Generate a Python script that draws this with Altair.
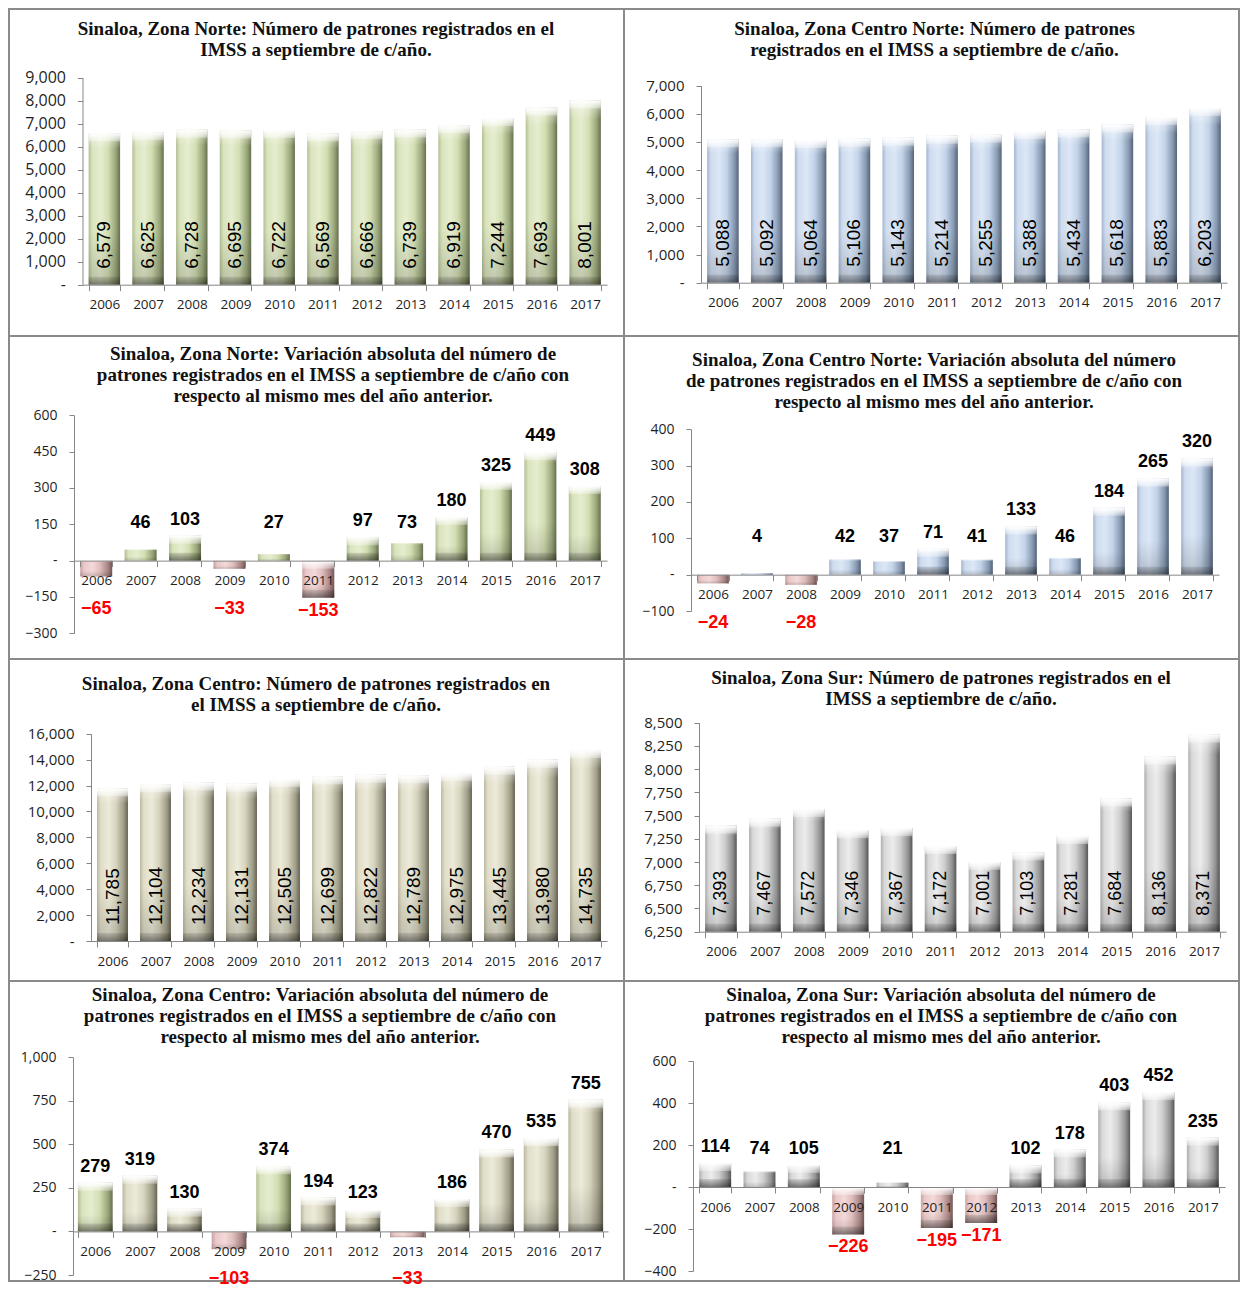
import altair as alt
import pandas as pd

# ---------------- data ----------------
years = [str(y) for y in range(2006, 2018)]

norte_num = [6579, 6625, 6728, 6695, 6722, 6569, 6666, 6739, 6919, 7244, 7693, 8001]
cnorte_num = [5088, 5092, 5064, 5106, 5143, 5214, 5255, 5388, 5434, 5618, 5883, 6203]
centro_num = [11785, 12104, 12234, 12131, 12505, 12699, 12822, 12789, 12975, 13445, 13980, 14735]
sur_num = [7393, 7467, 7572, 7346, 7367, 7172, 7001, 7103, 7281, 7684, 8136, 8371]

norte_var = [-65, 46, 103, -33, 27, -153, 97, 73, 180, 325, 449, 308]
cnorte_var = [-24, 4, -28, 42, 37, 71, 41, 133, 46, 184, 265, 320]
centro_var = [279, 319, 130, -103, 374, 194, 123, -33, 186, 470, 535, 755]
sur_var = [114, 74, 105, -226, 21, -195, -171, 102, 178, 403, 452, 235]

# years drawn in green in the Zona Centro variation chart
centro_var_green = ["2006", "2010"]

t_norte_num = ["Sinaloa, Zona Norte: Número de patrones registrados en el",
               "IMSS a septiembre de c/año."]
t_cnorte_num = ["Sinaloa, Zona Centro Norte: Número de patrones",
                "registrados en el IMSS a septiembre de c/año."]
t_norte_var = ["Sinaloa, Zona Norte: Variación absoluta del número de",
               "patrones registrados en el IMSS a septiembre de c/año con",
               "respecto al mismo mes del año anterior."]
t_cnorte_var = ["Sinaloa, Zona Centro Norte: Variación absoluta del número",
                "de patrones registrados en el IMSS a septiembre de c/año con",
                "respecto al mismo mes del año anterior."]
t_centro_num = ["Sinaloa, Zona Centro: Número de patrones registrados en",
                "el IMSS a septiembre de c/año."]
t_sur_num = ["Sinaloa, Zona Sur: Número de patrones registrados en el",
             "IMSS a septiembre de c/año."]
t_centro_var = ["Sinaloa, Zona Centro: Variación absoluta del número de",
                "patrones registrados en el IMSS a septiembre de c/año con",
                "respecto al mismo mes del año anterior."]
t_sur_var = ["Sinaloa, Zona Sur: Variación absoluta del número de",
             "patrones registrados en el IMSS a septiembre de c/año con",
             "respecto al mismo mes del año anterior."]

# ---------------- style ----------------
SANS = "Open Sans"
ARIAL = "Liberation Sans"
SERIF = "Liberation Serif"
AX = "#868686"
LAB = "#1f1f1f"
NB = "\u00a0"

PAL = {
    "green": ["#b2be93", "#d9e4bd", "#e5edcf", "#d3deb2", "#9aa77b", "#66704f"],
    "blue": ["#a4b6ce", "#cfdcef", "#dce7f6", "#c3d3e8", "#879ab2", "#566377"],
    "beige": ["#bbb8a0", "#e0ddc8", "#ecead9", "#d6d3bd", "#9f9c87", "#676455"],
    "gray": ["#adadad", "#d9d9d9", "#ececec", "#cfcfcf", "#939393", "#575757"],
    "pink": ["#c8a2a2", "#eac8c8", "#f3d9d9", "#dfbdbd", "#a98686", "#735555"],
}


def hgrad(name):
    offs = [0, 0.12, 0.38, 0.62, 0.86, 1]
    return {"gradient": "linear", "x1": 0, "x2": 1, "y1": 0, "y2": 0,
            "stops": [{"offset": o, "color": c} for o, c in zip(offs, PAL[name])]}


def vgrad(c0, c1):
    return {"gradient": "linear", "x1": 0, "x2": 0, "y1": 0, "y2": 1,
            "stops": [{"offset": 0, "color": c0}, {"offset": 1, "color": c1}]}


SHADE = {"gradient": "linear", "x1": 0, "x2": 0, "y1": 0, "y2": 1,
         "stops": [{"offset": 0, "color": "rgba(255,255,255,0.55)"},
                   {"offset": 0.1, "color": "rgba(255,255,255,0)"},
                   {"offset": 0.65, "color": "rgba(0,0,0,0)"},
                   {"offset": 1, "color": "rgba(0,0,0,0.16)"}]}
CAP_TOP = vgrad("rgba(255,255,255,0.95)", "rgba(255,255,255,0.3)")
CAP_BOT = vgrad("rgba(0,0,0,0.10)", "rgba(0,0,0,0.38)")
CAPH = 8

COLW = 615
ROWH = [327, 323, 322, 300]


def panel(title, values, ydom, yr, xr, tx, ty, color, kind, yls, xls, w, h,
          pad=0.28, vls=19, green=None):
    df = pd.DataFrame({"year": years, "v": values})
    ymin, ymax, step = ydom
    top, bottom = yr
    base = 0 if ymin < 0 else ymin

    def ypx(v):
        return top + (ymax - v) / (ymax - ymin) * (bottom - top)

    upp = (ymax - ymin) / (bottom - top)

    xaxis = alt.Axis(orient="bottom", offset=ypx(base) - h, labelAngle=0,
                     tickBand="extent", tickSize=6, tickColor=AX, domainColor=AX,
                     labelFont=SANS, labelFontSize=xls, labelColor=LAB,
                     labelPadding=7, zindex=1, title=None)
    yaxis = alt.Axis(orient="left", offset=-xr[0],
                     values=list(range(ymin, ymax + 1, step)),
                     labelExpr=f"datum.value == 0 ? '-{NB}{NB}{NB}' : format(datum.value, ',')",
                     tickSize=5, tickColor=AX, domainColor=AX, labelFont=SANS,
                     labelFontSize=yls, labelColor=LAB, labelPadding=12,
                     grid=False, labelOverlap=False, title=None)
    xs = alt.Scale(domain=years, range=list(xr), paddingInner=pad, paddingOuter=pad / 2)
    ys = alt.Scale(domain=[ymin, ymax], range=[bottom, top], nice=False, zero=False)

    def X():
        return alt.X("year:N", sort=years, scale=xs, axis=xaxis)

    def Y(f):
        return alt.Y(f + ":Q", scale=ys, axis=yaxis)

    src = alt.Chart(df)
    layers = []
    if green:
        layers.append(src.transform_filter(alt.FieldOneOfPredicate(field="year", oneOf=green))
                      .mark_bar(color=hgrad("green"))
                      .encode(x=X(), y=Y("v"), y2=alt.datum(base)))
        layers.append(src.transform_filter("datum.v >= 0")
                      .transform_filter({"not": alt.FieldOneOfPredicate(field="year", oneOf=green)})
                      .mark_bar(color=hgrad(color))
                      .encode(x=X(), y=Y("v"), y2=alt.datum(base)))
    else:
        layers.append(src.transform_filter(f"datum.v >= {base}")
                      .mark_bar(color=hgrad(color))
                      .encode(x=X(), y=Y("v"), y2=alt.datum(base)))
    if kind == "var":
        layers.append(src.transform_filter("datum.v < 0")
                      .mark_bar(color=hgrad("pink"))
                      .encode(x=X(), y=Y("v"), y2=alt.datum(base)))
    layers.append(src.mark_bar(color=SHADE).encode(x=X(), y=Y("v"), y2=alt.datum(base)))

    # bevel caps (only where the bar is tall enough)
    big = f"abs(datum.v - {base}) > {2.5 * CAPH * upp}"
    pos = src.transform_filter(f"datum.v >= {base}").transform_filter(big)
    neg = src.transform_filter(f"datum.v < {base}").transform_filter(big)
    layers.append(pos.mark_bar(color=CAP_TOP, y2Offset=CAPH)
                  .encode(x=X(), y=Y("v"), y2=alt.Y2("v")))
    layers.append(pos.transform_calculate(b=str(base))
                  .mark_bar(color=CAP_BOT, yOffset=-CAPH)
                  .encode(x=X(), y=Y("b"), y2=alt.Y2("b")))
    if kind == "var":
        layers.append(neg.transform_calculate(b=str(base))
                      .mark_bar(color=CAP_TOP, y2Offset=CAPH)
                      .encode(x=X(), y=Y("b"), y2=alt.Y2("b")))
        layers.append(neg.mark_bar(color=CAP_BOT, yOffset=-CAPH)
                      .encode(x=X(), y=Y("v"), y2=alt.Y2("v")))

    if kind == "num":
        layers.append(src.transform_calculate(b=str(base))
                      .mark_text(angle=270, align="left", baseline="middle", dx=16,
                                 font=ARIAL, fontSize=vls, color="black")
                      .encode(x=X(), y=Y("b"), text=alt.Text("v:Q", format=",")))
    else:
        fpos = 22 * upp
        fneg = 35 * upp
        layers.append(src.transform_filter("datum.v >= 0")
                      .transform_calculate(lab=f"max(datum.v, {fpos})")
                      .mark_text(baseline="alphabetic", dy=-11, font=ARIAL, fontSize=18,
                                 fontWeight="bold", color="black")
                      .encode(x=X(), y=Y("lab"), text=alt.Text("v:Q", format=",")))
        layers.append(src.transform_filter("datum.v < 0")
                      .transform_calculate(lab=f"min(datum.v, {-fneg})")
                      .mark_text(baseline="top", dy=4, font=ARIAL, fontSize=18,
                                 fontWeight="bold", color="#ff0000")
                      .encode(x=X(), y=Y("lab"), text=alt.Text("v:Q", format=",")))

    layers.append(alt.Chart(alt.Data(values=[{"t": 1}]))
                  .mark_text(font=SERIF, fontWeight="bold", fontSize=19, lineHeight=21,
                             align="center", baseline="middle", color="#111111")
                  .encode(x=alt.value(tx), y=alt.value(ty), text=alt.value(title)))

    return alt.layer(*layers).properties(width=w, height=h)


p1 = panel(t_norte_num, norte_num, (0, 9000, 1000), (68.5, 275.7), (73.5, 598), 307, 20,
           "green", "num", 16, 13.5, COLW, ROWH[0])
p2 = panel(t_cnorte_num, cnorte_num, (0, 7000, 1000), (76.5, 273.7), (77, 603), 310.5, 20.3,
           "blue", "num", 15, 13.5, COLW, ROWH[0])
p3 = panel(t_norte_var, norte_var, (-300, 600, 150), (79.3, 297.3), (65, 598), 324, 17.7,
           "green", "var", 14, 13.5, COLW, ROWH[1])
p4 = panel(t_cnorte_var, cnorte_var, (-100, 400, 100), (93.3, 275), (67, 595), 310, 24.3,
           "blue", "var", 14, 13.5, COLW, ROWH[1])
p5 = panel(t_centro_num, centro_num, (0, 16000, 2000), (74.7, 282), (82, 598), 307, 24.7,
           "beige", "num", 15, 13.5, COLW, ROWH[2])
p6 = panel(t_sur_num, sur_num, (6250, 8500, 250), (63.7, 272.7), (75, 602), 317, 19.3,
           "gray", "num", 15, 13.5, COLW, ROWH[2], vls=18)
p7 = panel(t_centro_var, centro_var, (-250, 1000, 250), (76, 294), (64, 599), 311, 14,
           "beige", "var", 14, 13.5, COLW, ROWH[3], pad=0.22, green=centro_var_green)
p8 = panel(t_sur_var, sur_var, (-400, 600, 200), (80, 290), (69, 601), 317, 14,
           "gray", "var", 14, 13.5, COLW, ROWH[3])

chart = (alt.concat(p1, p2, p3, p4, p5, p6, p7, p8, columns=2, spacing=0,
                    bounds="flush", align="each")
         .properties(padding=0, background="white")
         .configure_view(stroke="#8a8a8a", strokeWidth=2))

chart.save("out.html", embed_options={"renderer": "svg", "actions": False})
